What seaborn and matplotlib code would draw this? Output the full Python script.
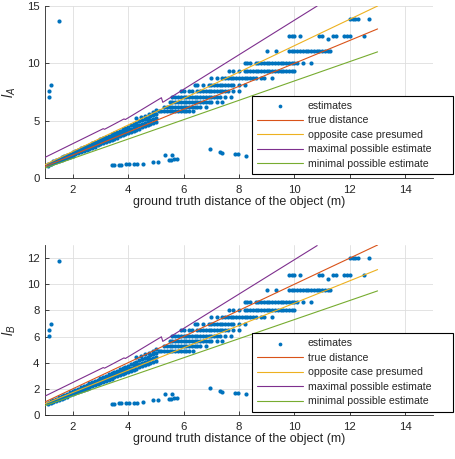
import pandas as pd
import seaborn as sns
import matplotlib.pyplot as plt

# colours used by the original figure
c_est = "#0072BD"
c_true = "#D95319"
c_opp = "#EDB120"
c_max = "#7E2F8E"
c_min = "#77AC30"
c_text = "#262626"

# dense band of estimates: x and three levels for l_A and l_B
band_x = [1.1, 1.2, 1.3, 1.4, 1.5, 1.6, 1.7, 1.8, 1.9, 2.0,
          2.1, 2.2, 2.3, 2.4, 2.5, 2.6, 2.7, 2.8, 2.9, 3.0,
          3.1, 3.2, 3.3, 3.4, 3.5, 3.6, 3.7, 3.8, 3.9, 4.0,
          4.1, 4.2, 4.3, 4.4, 4.5, 4.6, 4.7, 4.8, 4.9, 5.0]
band_la_lo = [1.08, 1.18, 1.27, 1.37, 1.47, 1.57, 1.67, 1.76, 1.86, 1.96,
              2.06, 2.16, 2.25, 2.35, 2.45, 2.55, 2.65, 2.74, 2.84, 2.94,
              3.04, 3.14, 3.23, 3.33, 3.43, 3.53, 3.63, 3.72, 3.82, 3.92,
              4.02, 4.12, 4.21, 4.31, 4.41, 4.51, 4.61, 4.70, 4.80, 4.90]
band_la_mid = [1.16, 1.26, 1.37, 1.47, 1.58, 1.68, 1.79, 1.89, 2.00, 2.10,
               2.21, 2.31, 2.42, 2.52, 2.63, 2.73, 2.84, 2.94, 3.05, 3.15,
               3.26, 3.36, 3.47, 3.57, 3.68, 3.78, 3.89, 3.99, 4.10, 4.20,
               4.31, 4.41, 4.52, 4.62, 4.73, 4.83, 4.94, 5.04, 5.15, 5.25]
band_la_hi = [1.23, 1.34, 1.46, 1.57, 1.68, 1.79, 1.90, 2.02, 2.13, 2.24,
              2.35, 2.46, 2.58, 2.69, 2.80, 2.91, 3.02, 3.14, 3.25, 3.36,
              3.47, 3.58, 3.70, 3.81, 3.92, 4.03, 4.14, 4.26, 4.37, 4.48,
              4.59, 4.70, 4.82, 4.93, 5.04, 5.15, 5.26, 5.38, 5.49, 5.60]
band_lb_lo = [0.82, 0.90, 0.99, 1.07, 1.16, 1.24, 1.33, 1.41, 1.50, 1.58,
              1.67, 1.76, 1.84, 1.93, 2.01, 2.10, 2.18, 2.27, 2.35, 2.44,
              2.52, 2.61, 2.70, 2.78, 2.87, 2.95, 3.04, 3.12, 3.21, 3.29,
              3.38, 3.46, 3.55, 3.64, 3.72, 3.81, 3.89, 3.98, 4.06, 4.15]
band_lb_mid = [0.88, 0.97, 1.07, 1.16, 1.25, 1.34, 1.43, 1.52, 1.61, 1.71,
               1.80, 1.89, 1.98, 2.07, 2.16, 2.26, 2.35, 2.44, 2.53, 2.62,
               2.71, 2.80, 2.90, 2.99, 3.08, 3.17, 3.26, 3.35, 3.45, 3.54,
               3.63, 3.72, 3.81, 3.90, 4.00, 4.09, 4.18, 4.27, 4.36, 4.45]
band_lb_hi = [0.95, 1.05, 1.14, 1.24, 1.34, 1.44, 1.54, 1.63, 1.73, 1.83,
              1.93, 2.02, 2.12, 2.22, 2.32, 2.41, 2.51, 2.61, 2.71, 2.80,
              2.90, 3.00, 3.10, 3.20, 3.29, 3.39, 3.49, 3.59, 3.68, 3.78,
              3.88, 3.98, 4.07, 4.17, 4.27, 4.37, 4.47, 4.56, 4.66, 4.76]

# quantised rows of estimates at larger distances
row_la = [5.8, 6.2, 6.65, 7.1, 7.6, 8.1, 8.7, 9.35, 10.05, 11.1, 12.4, 13.9]
row_lb = [4.93, 5.28, 5.67, 6.07, 6.5, 6.94, 7.46, 8.03, 8.64, 9.55, 10.69, 12.0]
row_x = [
    [5.1, 5.2, 5.3, 5.4, 5.5, 5.6, 5.7, 5.8, 5.9, 6.0, 6.1, 6.2, 6.35],
    [5.3, 5.4, 5.5, 5.6, 5.7, 5.8, 5.9, 6.0, 6.1, 6.2, 6.3, 6.4, 6.5, 6.6, 6.8],
    [5.5, 5.6, 5.7, 5.8, 5.9, 6.0, 6.1, 6.2, 6.3, 6.4, 6.5, 6.6, 6.7, 6.8,
     6.9, 7.0, 7.2, 7.4],
    [5.6, 5.7, 5.8, 5.9, 6.0, 6.1, 6.2, 6.3, 6.4, 6.5, 6.6, 6.7, 6.8, 6.9,
     7.0, 7.1, 7.2, 7.3, 7.5, 7.7],
    [5.9, 6.0, 6.2, 6.3, 6.5, 6.6, 6.7, 6.8, 6.9, 7.0, 7.1, 7.2, 7.3, 7.4,
     7.5, 7.6, 7.8, 8.0],
    [6.4, 6.5, 6.7, 6.9, 7.0, 7.1, 7.2, 7.3, 7.4, 7.5, 7.6, 7.7, 7.8, 8.0, 8.2],
    [7.0, 7.2, 7.4, 7.5, 7.6, 7.7, 7.8, 7.9, 8.0, 8.1, 8.2, 8.3, 8.4, 8.5,
     8.6, 8.8, 8.9, 9.2],
    [7.65, 7.8, 8.0, 8.2, 8.3, 8.4, 8.5, 8.6, 8.7, 8.8, 8.9, 9.0, 9.1, 9.2,
     9.3, 9.4, 9.5, 9.6, 9.7, 9.8, 9.9, 10.0],
    [8.2, 8.3, 8.4, 8.6, 8.7, 8.8, 8.9, 9.0, 9.1, 9.2, 9.3, 9.4, 9.5, 9.6,
     9.7, 9.8, 9.9, 10.0, 10.1, 10.3, 10.6],
    [9.0, 9.35, 9.8, 9.9, 10.0, 10.1, 10.2, 10.3, 10.4, 10.5, 10.6, 10.7,
     10.8, 10.9, 11.0, 11.1, 11.2, 11.3],
    [9.8, 9.9, 10.0, 10.2, 10.9, 11.0, 11.4, 11.5, 11.8, 11.9, 12.0, 12.5],
    [12.0, 12.1, 12.2, 12.3, 12.7],
]

# isolated estimates (outliers, the low cluster, points near the upper edge)
out_x = [1.49, 1.16, 1.16, 1.21, 3.43, 3.48, 3.67, 3.73, 3.91, 4.03, 4.21,
         4.33, 4.52, 4.88, 5.08, 5.34, 5.6, 5.46, 5.55, 5.67, 5.75, 6.97,
         7.3, 7.39, 7.85, 7.95, 8.27, 11.2,
         4.3, 4.45, 4.6, 4.75, 4.9, 5.0]
out_la = [13.69, 7.09, 7.61, 8.1, 1.13, 1.13, 1.16, 1.16, 1.18, 1.2, 1.22,
          1.22, 1.25, 1.42, 1.42, 2.0, 2.0, 1.57, 1.57, 1.63, 1.63, 2.5,
          2.24, 2.15, 2.09, 2.09, 1.95, 12.09,
          5.2, 5.35, 5.45, 5.6, 5.75, 5.9]
out_lb = [11.8, 6.06, 6.5, 6.93, 0.86, 0.86, 0.89, 0.89, 0.9, 0.92, 0.94,
          0.94, 0.96, 1.11, 1.11, 1.62, 1.62, 1.24, 1.24, 1.3, 1.3, 2.06,
          1.83, 1.75, 1.7, 1.7, 1.58, 10.42,
          4.41, 4.54, 4.63, 4.76, 4.89, 5.02]

# reference lines
line_x = [1.0, 13.0]
true_la = [1.0, 13.0]
opp_la = [1.16, 15.0]
min_la = [0.86, 11.0]
true_lb = [1.0, 13.0]
opp_lb = [0.86, 11.12]
min_lb = [0.72, 9.49]
max_x = [1.0, 3.1, 3.15, 3.85, 3.9, 5.2, 5.25, 10.82]
max_la = [1.8, 4.3, 4.25, 5.15, 5.1, 7.0, 6.6, 15.0]
max_lb = [1.445, 3.625, 3.581, 4.366, 4.322, 5.979, 5.63, 12.955]


def build_points():
    """collect all estimates into one dataframe"""
    xs, las, lbs = [], [], []
    for i, x in enumerate(band_x):
        xs += [x, x, x]
        las += [band_la_lo[i], band_la_mid[i], band_la_hi[i]]
        lbs += [band_lb_lo[i], band_lb_mid[i], band_lb_hi[i]]
    for ya, yb, xrow in zip(row_la, row_lb, row_x):
        xs += xrow
        las += [ya] * len(xrow)
        lbs += [yb] * len(xrow)
    xs += out_x
    las += out_la
    lbs += out_lb
    return pd.DataFrame({"x": xs, "la": las, "lb": lbs})


def style_axes(ax, ymax, yticks, ylab):
    ax.set_xlim(1, 15)
    ax.set_ylim(0, ymax)
    ax.set_xticks([2, 4, 6, 8, 10, 12, 14])
    ax.set_yticks(yticks)
    ax.grid(True, color="#dedede", linewidth=0.6)
    ax.set_axisbelow(True)
    for side in ["top", "right"]:
        ax.spines[side].set_visible(False)
    for side in ["left", "bottom"]:
        ax.spines[side].set_color(c_text)
        ax.spines[side].set_linewidth(0.6)
    ax.tick_params(bottom=True, left=True, direction="in", length=3,
                   width=0.6, color=c_text, labelsize=8.2,
                   labelcolor=c_text)
    ax.tick_params(axis="x", pad=5)
    ax.tick_params(axis="y", pad=4)
    ax.set_xlabel("ground truth distance of the object (m)", fontsize=9,
                  color=c_text, labelpad=0.5)
    ax.set_ylabel(ylab, fontsize=10, color=c_text, labelpad=6)


def draw(ax, df, ycol, true_y, opp_y, max_y, min_y, legend_top):
    sns.scatterplot(data=df, x="x", y=ycol, ax=ax, s=9, color=c_est,
                    linewidth=0, label="estimates", zorder=2)
    sns.lineplot(x=line_x, y=true_y, ax=ax, color=c_true, linewidth=0.8,
                 label="true distance", sort=False, estimator=None, zorder=3)
    sns.lineplot(x=line_x, y=opp_y, ax=ax, color=c_opp, linewidth=0.8,
                 label="opposite case presumed", sort=False, estimator=None,
                 zorder=3)
    sns.lineplot(x=max_x, y=max_y, ax=ax, color=c_max, linewidth=0.8,
                 label="maximal possible estimate", sort=False,
                 estimator=None, zorder=3)
    sns.lineplot(x=line_x, y=min_y, ax=ax, color=c_min, linewidth=0.8,
                 label="minimal possible estimate", sort=False,
                 estimator=None, zorder=3)
    handles, labels = ax.get_legend_handles_labels()
    box_h = 0.05
    leg = ax.legend(handles, labels, loc="upper left",
                    bbox_to_anchor=(252 / 456, legend_top - box_h,
                                    201 / 456, box_h),
                    bbox_transform=ax.figure.transFigure, mode="expand",
                    borderaxespad=0, fancybox=False, framealpha=1,
                    edgecolor="black", fontsize=7.6, handlelength=4.3,
                    handletextpad=0.5, labelspacing=0.43, borderpad=0.5,
                    markerscale=0.9)
    leg.get_frame().set_linewidth(0.8)
    for t in leg.get_texts():
        t.set_color(c_text)


def main():
    sns.set_style("white")
    plt.rcParams["font.family"] = ["Liberation Sans", "DejaVu Sans"]
    plt.rcParams["mathtext.fontset"] = "custom"
    plt.rcParams["mathtext.it"] = "Liberation Sans:italic"
    plt.rcParams["mathtext.rm"] = "Liberation Sans"

    df = build_points()

    fig = plt.figure(figsize=(4.56, 4.59), dpi=100)
    ax1 = fig.add_axes([45 / 456, 1 - 178 / 459, 388 / 456, 172 / 459])
    ax2 = fig.add_axes([45 / 456, 1 - 415 / 459, 388 / 456, 170 / 459])

    draw(ax1, df, "la", true_la, opp_la, max_la, min_la, 1 - 95.5 / 459)
    draw(ax2, df, "lb", true_lb, opp_lb, max_lb, min_lb, 1 - 333 / 459)

    style_axes(ax1, 15, [0, 5, 10, 15], "$l_A$")
    style_axes(ax2, 13, [0, 2, 4, 6, 8, 10, 12], "$l_B$")

    fig.savefig("out.png", dpi=100)


if __name__ == "__main__":
    main()
